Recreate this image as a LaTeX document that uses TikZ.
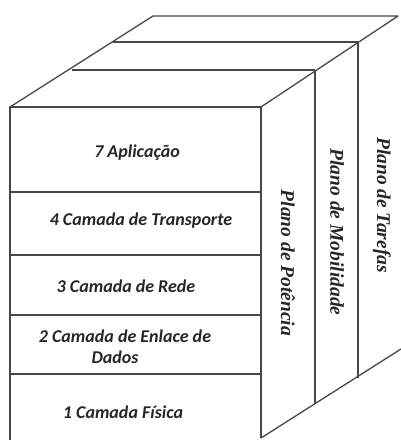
\documentclass[tikz,border=0pt]{standalone}
\usepackage{fontspec}
\setmainfont{Carlito}
\newfontfamily\planefont{Liberation Serif}
\tikzset{
  edge/.style={draw=black!72, line width=1.3pt, line join=round},
  layer/.style={font=\bfseries\itshape\fontsize{18}{21}\selectfont, text=black!85, align=center, inner sep=0pt},
  plane/.style={font=\planefont\bfseries\itshape\fontsize{19.5}{22}\selectfont, text=black!85, rotate=-90, inner sep=0pt}
}
\begin{document}
\begin{tikzpicture}[x=1pt,y=-1pt]
\useasboundingbox (0,0) rectangle (401,440);
% corners
\coordinate (FTL) at (10,107);
\coordinate (FTR) at (261,107);
\coordinate (FBL) at (10,441);
\coordinate (FBR) at (261,438);
\coordinate (BTL) at (153,16);
\coordinate (BTR) at (398,16);
\coordinate (M1L) at (113,42);
\coordinate (M1R) at (358,42);
\coordinate (M2L) at (72,70);
\coordinate (M2R) at (315,70);
\coordinate (M1B) at (358,378);
\coordinate (M2B) at (315,404);
\coordinate (BBR) at (401,349);
% front face
\draw[edge] (FBL) -- (FTL) -- (FTR) -- (FBR);
\draw[edge] (10,192) -- (261,192);
\draw[edge] (10,255) -- (261,255);
\draw[edge] (10,315) -- (261,315);
\draw[edge] (10,374) -- (261,374);
% top face
\draw[edge] (FTL) -- (BTL) -- (BTR) -- (FTR);
\draw[edge] (M1L) -- (M1R);
\draw[edge] (M2L) -- (M2R);
% side face
\draw[edge] (M2R) -- (M2B);
\draw[edge] (M1R) -- (M1B);
\draw[edge] (FBR) -- (BBR);
% texts
\node[layer] (l7) at (137,153) {7 Aplicação};
\node[layer] (l4) at (141,221) {4 Camada de Transporte};
\node[layer] (l3) at (126,286) {3 Camada de Rede};
\node[layer] (l2) at (125,347) {2 Camada de Enlace de\\Dados\hspace*{20pt}};
\node[layer] (l1) at (123,412) {1 Camada Física};
\node[plane] (p1) at (288,263) {Plano de Potência};
\node[plane] (p2) at (337,232) {Plano de Mobilidade};
\node[plane] (p3) at (382,205) {Plano de Tarefas};
\end{tikzpicture}
\end{document}
